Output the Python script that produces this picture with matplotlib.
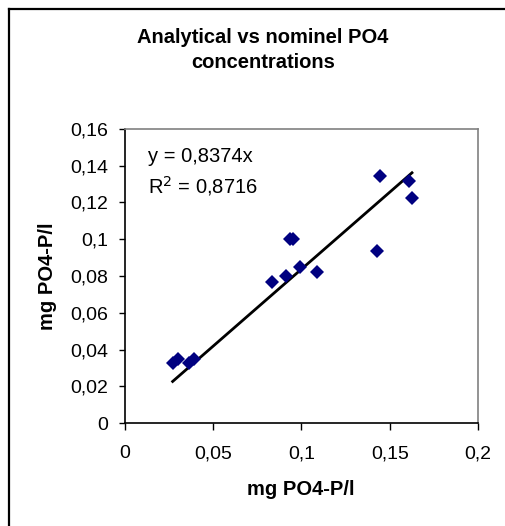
import numpy as np
import matplotlib
matplotlib.use("Agg")
import matplotlib.pyplot as plt
from matplotlib.lines import Line2D

plt.rcParams['font.family'] = ['Liberation Sans', 'DejaVu Sans']

# nominal vs analytical concentrations (mg PO4-P/l)
nominal = [0.027, 0.030, 0.036, 0.039, 0.0835, 0.0912, 0.0935, 0.0954,
           0.0992, 0.1086, 0.1426, 0.1445, 0.161, 0.1626]
analytical = [0.0328, 0.0347, 0.0325, 0.0347, 0.0767, 0.080, 0.100, 0.100,
              0.0851, 0.0822, 0.0936, 0.1344, 0.1317, 0.1224]
slope = 0.8374
r2 = 0.8716

x_ticks = [0, 0.05, 0.1, 0.15, 0.2]
x_labels = ["0", "0,05", "0,1", "0,15", "0,2"]
y_ticks = [0, 0.02, 0.04, 0.06, 0.08, 0.1, 0.12, 0.14, 0.16]
y_labels = ["0", "0,02", "0,04", "0,06", "0,08", "0,1", "0,12", "0,14", "0,16"]

fig = plt.figure(figsize=(5.05, 5.26), dpi=100)
ax = fig.add_axes([0.2475, 0.1958, 0.699, 0.559])

ax.plot(nominal, analytical, linestyle='none', marker='D', markersize=7.4,
        color='#000080', markeredgewidth=0, zorder=3)

fit_x = np.array([min(nominal), max(nominal)])
ax.plot(fit_x, slope * fit_x, color='black', linewidth=2.0, zorder=2)

ax.set_xlim(0, 0.2)
ax.set_ylim(0, 0.16)
ax.set_xticks(x_ticks)
ax.set_xticklabels(x_labels)
ax.set_yticks(y_ticks)
ax.set_yticklabels(y_labels)
ax.tick_params(axis='x', direction='out', length=5, width=1, pad=11, labelsize=14)
ax.tick_params(axis='y', direction='out', length=4, width=1, pad=8, labelsize=14)

for side in ['left', 'bottom']:
    ax.spines[side].set_color('black')
    ax.spines[side].set_linewidth(1.2)
for side in ['top', 'right']:
    ax.spines[side].set_color('#808080')
    ax.spines[side].set_linewidth(1.2)

ax.text(0.013, 0.145, "y = 0,8374x", fontsize=14.5, ha='left', va='center')
ax.text(0.013, 0.129, "R$^2$ = 0,8716", fontsize=14.5, ha='left', va='center')

fig.text(0.595, 0.069, "mg PO4-P/l", fontsize=14.5, fontweight='bold',
         ha='center', va='center')
fig.text(0.095, 0.475, "mg PO4-P/l", fontsize=14.5, fontweight='bold',
         ha='center', va='center', rotation=90)
fig.text(0.521, 0.905, "Analytical vs nominel PO4\nconcentrations", fontsize=14.5,
         fontweight='bold', ha='center', va='center', linespacing=1.4)

# chart area border (only top and left edges are visible in the crop)
fig.add_artist(Line2D([9 / 505, 9 / 505], [0, 1 - 8.5 / 526],
                      transform=fig.transFigure, color='black', linewidth=1.6))
fig.add_artist(Line2D([9 / 505, 1], [1 - 8.5 / 526, 1 - 8.5 / 526],
                      transform=fig.transFigure, color='black', linewidth=1.6))

fig.savefig("out.png", dpi=100)
